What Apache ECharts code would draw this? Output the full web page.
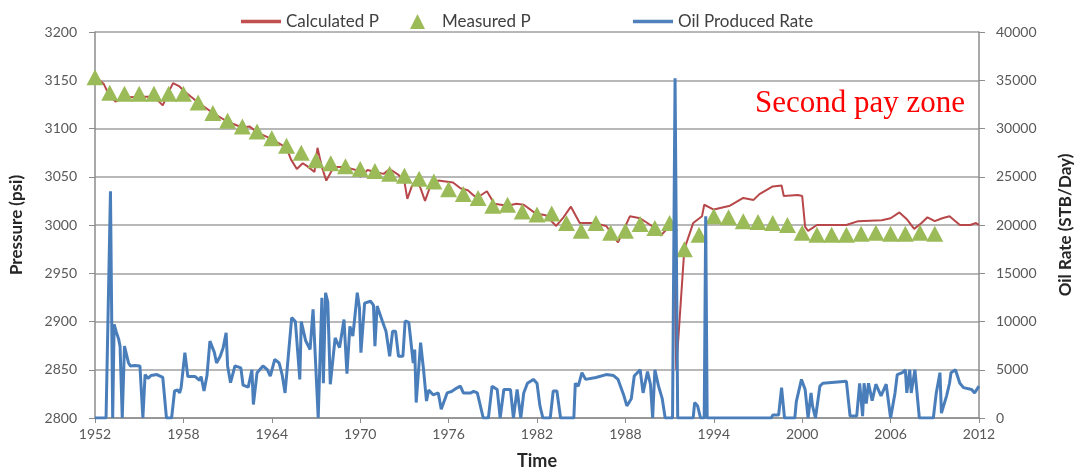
<!DOCTYPE html>
<html>
<head>
<meta charset="utf-8">
<title>Pressure and Oil Rate History</title>
<script src="https://cdn.jsdelivr.net/npm/echarts@6/dist/echarts.min.js"></script>
<style>
  html, body { margin: 0; padding: 0; background: #ffffff; }
  #chart { width: 1082px; height: 475px; }
</style>
</head>
<body>
<div id="chart"></div>
<script>
// Axis ranges and tick spacing
const timeMin = 1952, timeMax = 2012, timeStep = 6;
const pressureMin = 2800, pressureMax = 3200, pressureStep = 50;
const rateMin = 0, rateMax = 40000, rateStep = 5000;

// Simulated reservoir pressure, psi  [year, value]
const calculatedP = [
  [1952.0,3152],[1952.3,3150],[1952.6,3146],[1953.0,3133],[1953.4,3128],[1954.0,3132],
  [1955.0,3133],[1956.0,3133],[1956.6,3124],[1957.0,3138],[1957.3,3147],[1957.7,3144],
  [1958.1,3138],[1959.0,3127],[1960.0,3116],[1961.0,3107],[1962.0,3101],[1962.5,3102],
  [1963.0,3096],[1964.0,3089],[1965.0,3080],[1965.3,3068],[1965.7,3058],[1966.1,3064],
  [1966.4,3061],[1966.9,3055],[1967.1,3080],[1967.4,3060],[1967.7,3046],[1968.2,3060],
  [1969.0,3060],[1969.7,3057],[1970.0,3050],[1970.5,3057],[1971.0,3055],[1971.6,3053],
  [1972.0,3058],[1972.6,3052],[1973.0,3045],[1973.2,3027],[1973.5,3040],[1973.8,3047],
  [1974.1,3038],[1974.4,3025],[1974.8,3042],[1975.3,3046],[1975.8,3045],[1976.3,3044],
  [1976.8,3038],[1977.3,3036],[1977.9,3028],[1978.6,3035],[1979.1,3022],[1980.0,3020],
  [1980.6,3022],[1981.1,3021],[1981.9,3012],[1982.6,3010],[1983.3,2999],[1983.8,3008],
  [1984.3,3019],[1984.9,3002],[1985.8,3002],[1986.7,2999],[1987.5,2982],[1988.3,3009],
  [1989.0,3007],[1989.8,2999],[1990.4,2989],[1991.0,2999],[1991.3,2999],[1991.45,2850],
  [1992.0,2975],[1992.6,3002],[1993.2,3009],[1993.35,3021],[1994.0,3016],[1995.1,3020],
  [1996.0,3028],[1996.7,3026],[1997.1,3032],[1998.0,3040],[1998.6,3041],[1998.75,3030],
  [1999.7,3031],[2000.0,3030],[2000.2,2998],[2000.4,2994],[2001.0,3000],[2003.0,3000],
  [2003.8,3004],[2005.4,3005],[2006.0,3007],[2006.6,3013],[2007.1,3006],[2007.6,2996],
  [2008.1,3002],[2008.5,3008],[2009.0,3004],[2009.5,3007],[2010.0,3009],[2010.7,3000],
  [2011.4,3000],[2011.8,3002],[2012.0,3000]
];

// Yearly pressure measurements, psi
const measuredYears = [
  1952,1953,1954,1955,1956,1957,1958,1959,1960,1961,1962,1963,1964,1965,1966,1967,
  1968,1969,1970,1971,1972,1973,1974,1975,1976,1977,1978,1979,1980,1981,1982,1983,
  1984,1985,1986,1987,1988,1989,1990,1991,1992,1993,1994,1995,1996,1997,1998,1999,
  2000,2001,2002,2003,2004,2005,2006,2007,2008,2009
];
const measuredP = [
  3153,3137,3136,3136,3136,3136,3136,3127,3116,3108,3102,3097,3090,3082,3075,3067,
  3064,3061,3058,3056,3053,3051,3048,3045,3037,3032,3028,3020,3021,3014,3011,3012,
  3002,2994,3002,2992,2994,3001,2997,3002,2975,2990,3009,3008,3004,3003,3002,3000,
  2992,2990,2990,2990,2991,2992,2991,2991,2992,2991
];

// Oil production rate, STB/Day  [year, value]
const oilRate = [
  [1952.0,0],[1952.75,0],[1953.05,23500],[1953.2,0],[1953.3,9700],[1953.45,8900],[1953.6,8200],
  [1953.7,7450],[1953.85,0],[1954.0,7450],[1954.15,6500],[1954.27,5730],[1954.4,5400],[1954.7,5450],
  [1955.05,5380],[1955.25,0],[1955.4,4500],[1955.6,4100],[1955.8,4400],[1956.2,4500],[1956.6,4200],
  [1956.85,0],[1957.2,0],[1957.4,2800],[1957.6,2900],[1957.75,2600],[1957.85,3200],[1958.1,6770],
  [1958.3,4300],[1958.8,4300],[1959.1,3900],[1959.2,4300],[1959.4,2800],[1959.6,4400],[1959.8,7970],
  [1960.1,6800],[1960.25,5700],[1960.5,6400],[1960.7,7290],[1960.9,8840],[1961.0,5400],[1961.2,3660],
  [1961.5,5400],[1961.9,5200],[1962.05,3400],[1962.4,3200],[1962.65,5000],[1962.75,1400],[1963.0,4700],
  [1963.4,5400],[1963.7,5000],[1963.9,4350],[1964.2,6070],[1964.5,5700],[1964.7,4500],[1964.9,2600],
  [1965.1,6070],[1965.35,10400],[1965.6,10000],[1965.9,4000],[1966.0,10000],[1966.3,8000],[1966.6,7100],
  [1966.8,11250],[1967.15,0],[1967.4,12450],[1967.5,3600],[1967.65,12980],[1967.8,12000],[1967.97,3500],
  [1968.3,8300],[1968.6,7300],[1968.9,10200],[1969.1,4600],[1969.3,9500],[1969.5,8500],[1969.7,11400],
  [1969.8,12980],[1969.95,11400],[1970.05,6770],[1970.3,11900],[1970.7,12100],[1970.9,11700],[1971.0,7450],
  [1971.15,11600],[1971.5,10050],[1971.75,9000],[1972.0,6400],[1972.2,9000],[1972.4,9000],[1972.6,6400],
  [1972.9,6400],[1973.05,10050],[1973.3,9900],[1973.6,5700],[1973.7,7100],[1973.8,1600],[1974.1,7800],
  [1974.3,5000],[1974.5,1760],[1974.65,2900],[1974.95,2400],[1975.3,2600],[1975.5,900],[1975.9,2600],
  [1976.2,2750],[1976.55,3100],[1976.8,3300],[1977.0,2600],[1977.5,2600],[1977.7,2750],[1977.95,2600],
  [1978.35,0],[1978.7,0],[1978.95,3300],[1979.3,2950],[1979.5,0],[1979.75,2950],[1980.2,2950],
  [1980.4,0],[1980.65,2950],[1980.9,0],[1981.1,2600],[1981.35,3600],[1981.75,4000],[1982.0,3600],
  [1982.2,1250],[1982.4,0],[1982.9,0],[1983.1,2800],[1983.35,2800],[1983.6,0],[1984.5,0],
  [1984.6,3600],[1984.8,3300],[1985.05,4700],[1985.3,4000],[1986.0,4200],[1986.7,4500],[1987.2,4400],
  [1987.5,4000],[1987.9,2300],[1988.1,1250],[1988.4,2000],[1988.6,4350],[1989.0,5000],[1989.2,2600],
  [1989.5,4800],[1989.7,3500],[1989.85,0],[1990.0,5000],[1990.25,3300],[1990.5,2000],[1990.7,0],
  [1991.2,0],[1991.37,35200],[1991.55,0],[1992.6,0],[1992.7,1600],[1992.9,1250],[1993.1,0],
  [1993.35,0],[1993.45,20900],[1993.55,0],[1997.9,0],[1998.0,300],[1998.4,300],[1998.6,3150],
  [1998.8,0],[1999.5,0],[1999.6,1700],[1999.95,4000],[2000.2,2950],[2000.4,0],[2000.6,2600],
  [2000.7,1250],[2000.9,0],[2001.2,3300],[2001.4,3600],[2003.0,3800],[2003.25,200],[2003.7,200],
  [2003.9,3600],[2004.1,200],[2004.2,3600],[2004.35,1500],[2004.5,3600],[2004.75,1800],[2005.0,3500],
  [2005.35,2300],[2005.7,3500],[2006.0,0],[2006.3,2600],[2006.45,4500],[2006.8,4700],[2007.0,5000],
  [2007.1,2600],[2007.3,5000],[2007.4,2600],[2007.65,5000],[2007.95,0],[2008.9,0],[2009.1,2600],
  [2009.35,4700],[2009.45,500],[2009.8,2300],[2010.0,3600],[2010.1,4700],[2010.4,5000],[2010.7,3600],
  [2010.95,3150],[2011.5,2950],[2011.7,2600],[2012.0,3300]
];

const measuredPoints = measuredYears.map((y, i) => [y, measuredP[i]]);

const uiFont = 'Lato, "Open Sans", sans-serif';
const axisGray = '#8c8c8c';
const labelColor = '#595959';
const plain = v => String(v);

const chart = echarts.init(document.getElementById('chart'), null, { renderer: 'canvas' });

const legendText = { fontFamily: uiFont, fontSize: 17, color: '#404040' };
const lineIcon = 'path://M0,0 L40,0 L40,3.5 L0,3.5 Z';

chart.setOption({
  animation: false,
  backgroundColor: '#ffffff',
  grid: { left: 95, right: 101, top: 32, bottom: 56, containLabel: false },
  legend: [
    {
      data: [{ name: 'Calculated P', icon: lineIcon }],
      left: 236, top: 8, itemWidth: 40, itemHeight: 15, itemGap: 0, textStyle: legendText
    },
    {
      data: [{ name: 'Measured P', icon: 'triangle' }],
      left: 405, top: 8, itemWidth: 15, itemHeight: 15,
      textStyle: Object.assign({ padding: [0, 0, 0, 12] }, legendText)
    },
    {
      data: [{ name: 'Oil Produced Rate', icon: lineIcon }],
      left: 628, top: 8, itemWidth: 40, itemHeight: 15, textStyle: legendText
    }
  ],
  xAxis: {
    type: 'value',
    min: timeMin, max: timeMax, interval: timeStep,
    name: 'Time', nameLocation: 'middle', nameGap: 34,
    nameTextStyle: { fontFamily: uiFont, fontSize: 18, fontWeight: 'bold', color: '#262626' },
    axisLine: { show: true, lineStyle: { color: axisGray, width: 1.5 } },
    axisTick: { show: true, length: 5, lineStyle: { color: axisGray } },
    axisLabel: { fontFamily: uiFont, fontSize: 14, color: labelColor, margin: 9, formatter: plain },
    splitLine: { show: false }
  },
  yAxis: [
    {
      type: 'value',
      min: pressureMin, max: pressureMax, interval: pressureStep,
      name: 'Pressure (psi)', nameLocation: 'middle', nameGap: 70, nameRotate: 90,
      nameTextStyle: { fontFamily: uiFont, fontSize: 17, fontWeight: 'bold', color: '#262626' },
      axisLine: { show: true, lineStyle: { color: axisGray, width: 1.5 } },
      axisTick: { show: true, length: 6, lineStyle: { color: axisGray } },
      axisLabel: { fontFamily: uiFont, fontSize: 14, color: labelColor, margin: 18, formatter: plain },
      splitLine: { show: true, lineStyle: { color: '#a0a0a0', width: 1.5 } }
    },
    {
      type: 'value',
      min: rateMin, max: rateMax, interval: rateStep,
      name: 'Oil Rate (STB/Day)', nameLocation: 'middle', nameGap: 78, nameRotate: 90,
      nameTextStyle: { fontFamily: uiFont, fontSize: 17, fontWeight: 'bold', color: '#262626' },
      axisLine: { show: true, lineStyle: { color: axisGray, width: 1.5 } },
      axisTick: { show: true, length: 6, lineStyle: { color: axisGray } },
      axisLabel: { fontFamily: uiFont, fontSize: 14, color: labelColor, margin: 17, formatter: plain },
      splitLine: { show: false }
    }
  ],
  graphic: [
    {
      type: 'text', left: 755, top: 88,
      style: { text: 'Second pay zone', fill: '#ff0000', font: '31px "Liberation Serif", "DejaVu Serif", serif' }
    }
  ],
  series: [
    {
      name: 'Calculated P', type: 'line', yAxisIndex: 0,
      data: calculatedP, showSymbol: false, symbol: 'none',
      lineStyle: { color: '#b8474a', width: 2 }, itemStyle: { color: '#c0504d' }, z: 2
    },
    {
      name: 'Measured P', type: 'scatter', yAxisIndex: 0,
      data: measuredPoints, symbol: 'triangle', symbolSize: [17, 16],
      itemStyle: { color: '#9bbb59', opacity: 1 }, z: 3
    },
    {
      name: 'Oil Produced Rate', type: 'line', yAxisIndex: 1,
      data: oilRate, showSymbol: false, symbol: 'none',
      lineStyle: { color: '#4a7ebb', width: 3 }, itemStyle: { color: '#4f81bd' }, z: 4
    }
  ]
});
</script>
</body>
</html>
